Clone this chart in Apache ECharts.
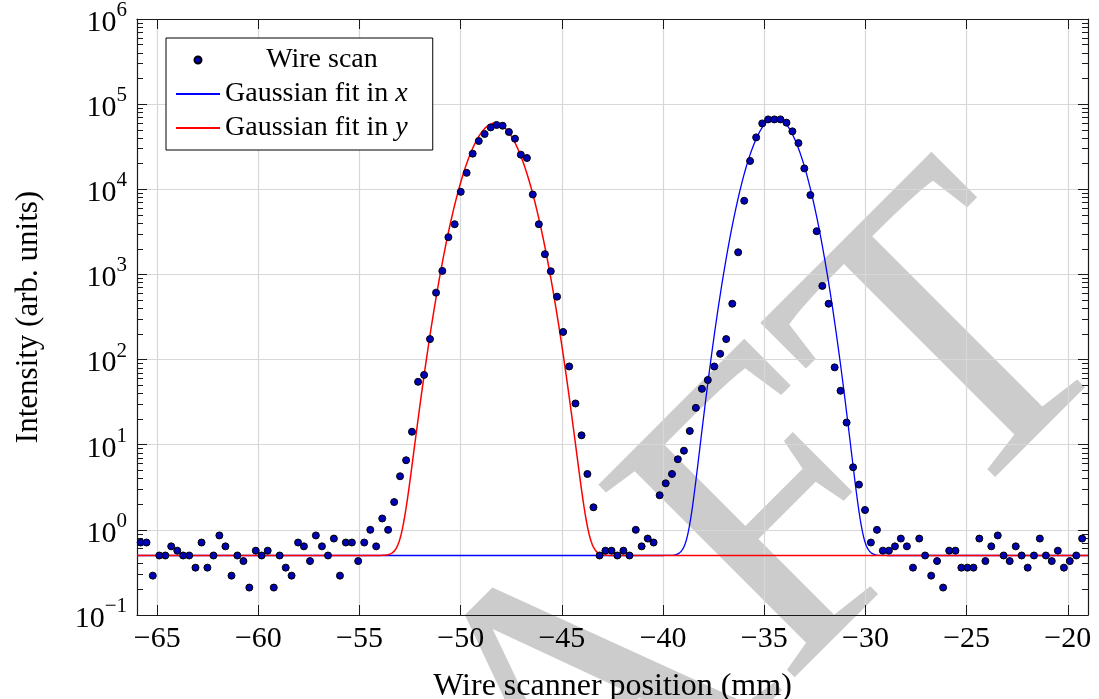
<!DOCTYPE html>
<html>
<head>
<meta charset="utf-8">
<title>Wire scan</title>
<script src="https://cdn.jsdelivr.net/npm/echarts@6.0.0/dist/echarts.min.js"></script>
<style>
  html, body { margin: 0; padding: 0; background: #fff; }
  #chart { width: 1099px; height: 699px; }
</style>
</head>
<body>
<div id="chart"></div>
<script>
// wire scan: scanner position (mm) and measured intensity (arb. units)
var scanX = [
  -65.82, -65.53, -65.22, -64.90, -64.60, -64.31, -64.01, -63.72, -63.42, -63.11,
  -62.81, -62.52, -62.22, -61.93, -61.63, -61.33, -61.04, -60.74, -60.45, -60.13,
  -59.84, -59.54, -59.24, -58.95, -58.65, -58.36, -58.04, -57.75, -57.45, -57.16,
  -56.86, -56.56, -56.27, -55.97, -55.68, -55.38, -55.07, -54.77, -54.47, -54.18,
  -53.88, -53.59, -53.29, -53.00, -52.70, -52.41, -52.11, -51.81, -51.52, -51.22,
  -50.91, -50.61, -50.30, -50.00, -49.71, -49.41, -49.11, -48.82, -48.52, -48.23,
  -47.93, -47.62, -47.32, -47.03, -46.73, -46.44, -46.14, -45.84, -45.55, -45.24,
  -44.94, -44.64, -44.33, -44.03, -43.74, -43.44, -43.14, -42.85, -42.55, -42.26,
  -41.96, -41.66, -41.35, -41.06, -40.76, -40.47, -40.17, -39.87, -39.56, -39.27,
  -38.97, -38.68, -38.38, -38.08, -37.79, -37.47, -37.18, -36.88, -36.58, -36.29,
  -35.99, -35.70, -35.40, -35.10, -34.81, -34.50, -34.20, -33.90, -33.61, -33.31,
  -33.02, -32.72, -32.41, -32.13, -31.82, -31.52, -31.23, -30.93, -30.61, -30.32,
  -30.02, -29.73, -29.43, -29.14, -28.84, -28.54, -28.25, -27.95, -27.65, -27.34,
  -27.05, -26.75, -26.46, -26.16, -25.86, -25.55, -25.26, -24.96, -24.66, -24.37,
  -24.07, -23.78, -23.46, -23.17, -22.87, -22.57, -22.28, -21.98, -21.67, -21.38,
  -21.08, -20.79, -20.49, -20.19, -19.90, -19.58, -19.29
]
var scanY = [
  0.71, 0.71, 0.29, 0.5, 0.5, 0.64, 0.57, 0.5, 0.5, 0.36,
  0.71, 0.36, 0.5, 0.86, 0.64, 0.29, 0.5, 0.43, 0.21, 0.57,
  0.5, 0.57, 0.21, 0.5, 0.36, 0.29, 0.71, 0.64, 0.43, 0.86,
  0.64, 0.5, 0.79, 0.29, 0.71, 0.71, 0.43, 0.71, 1.0, 0.64,
  1.36, 1.0, 2.12, 4.26, 6.57, 14.2, 54.8, 66, 174, 611,
  1100, 2740, 3890, 9330, 15600, 26200, 36900, 44600, 53300, 56900,
  55800, 47100, 39300, 25500, 23300, 8690, 3890, 1730, 1090, 548,
  211, 83, 30.5, 12.9, 4.53, 1.84, 0.5, 0.57, 0.57, 0.5,
  0.57, 0.5, 1.0, 0.64, 0.79, 0.71, 2.55, 3.52, 4.53, 6.75,
  8.5, 14.5, 27.1, 45.3, 57.5, 83, 117, 174, 453, 1820,
  7330, 21500, 40700, 59400, 66200, 66200, 66200, 60600, 47900, 34900,
  17600, 8550, 3220, 733, 453, 81, 43, 18.2, 5.43, 3.4,
  1.71, 0.71, 1.0, 0.57, 0.57, 0.64, 0.79, 0.64, 0.36, 0.79,
  0.5, 0.29, 0.43, 0.21, 0.57, 0.57, 0.36, 0.36, 0.36, 0.79,
  0.43, 0.64, 0.86, 0.5, 0.43, 0.64, 0.5, 0.36, 0.5, 0.79,
  0.5, 0.43, 0.57, 0.36, 0.43, 0.5, 0.79
]

// gaussian fits: [amplitude, centre, sigma, offset]
var fitXParams = [7.0e4, -34.45, 0.88, 0.5]
var fitYParams = [6.0e4, -48.3, 0.95, 0.5]

var xRange = [-66, -19]
var xTicks = [-65, -60, -55, -50, -45, -40, -35, -30, -25, -20]
var yTicks = [0.1, 1, 10, 100, 1e3, 1e4, 1e5, 1e6]

var FONT = 'Liberation Serif'
var AXIS_COLOR = '#1a1a1a'
var GRID_COLOR = '#d7d7d7'

var yMinorTicks = []
for (var d = 0; d < yTicks.length - 1; d++) {
  for (var k = 2; k <= 9; k++) {
    yMinorTicks.push(yTicks[d] * k)
  }
}

function fitLine(p) {
  var pts = []
  for (var x = xRange[0]; x <= xRange[1] + 1e-9; x += 0.05) {
    var dx = x - p[1]
    pts.push([x, p[0] * Math.exp(-dx * dx / (2 * p[2] * p[2])) + p[3]])
  }
  return pts
}

function supLabel(v) {
  var e = Math.round(Math.log10(v))
  return '{b|10}{s|' + String(e).replace('-', '\u2212') + '}'
}

var scanData = scanX.map(function (x, i) { return [x, scanY[i]] })

var chart = echarts.init(document.getElementById('chart'), null, { renderer: 'canvas' })

function axisLine() {
  return { show: true, onZero: false, lineStyle: { color: AXIS_COLOR, width: 1.2 } }
}
function majorTick(vals) {
  return { show: true, inside: true, length: 10, customValues: vals, lineStyle: { color: AXIS_COLOR, width: 1 } }
}
function minorTick(vals) {
  return { show: true, inside: true, length: 6, customValues: vals, lineStyle: { color: AXIS_COLOR, width: 1 } }
}

chart.setOption({
  animation: false,
  backgroundColor: '#fff',
  grid: {
    left: 137,
    right: 11,
    top: 19,
    bottom: 84,
    outerBoundsMode: 'none'
  },
  // draft watermark behind the plot
  graphic: [
    {
      type: 'text',
      z: -10,
      silent: true,
      x: 566,
      y: 750,
      rotation: Math.PI / 4,
      style: {
        text: 'DRAFT',
        fontFamily: FONT,
        fontSize: 420,
        fill: '#cccccc',
        align: 'center',
        verticalAlign: 'middle'
      }
    }
  ],
  legend: {
    orient: 'vertical',
    left: 166,
    top: 38,
    padding: [8, 25, 8, 9],
    itemGap: 6,
    itemWidth: 44,
    itemHeight: 7,
    backgroundColor: '#fff',
    borderColor: '#000',
    borderWidth: 1,
    borderRadius: 0,
    z: 10,
    data: [
      { name: 'Wire scan' },
      { name: 'Gaussian fit in x', itemStyle: { opacity: 0 } },
      { name: 'Gaussian fit in y', itemStyle: { opacity: 0 } }
    ],
    formatter: function (name) {
      if (name === 'Wire scan') return '{w|Wire scan}'
      return '{t|' + name.slice(0, -1) + '}{i|' + name.slice(-1) + '}'
    },
    textStyle: {
      fontFamily: FONT,
      fontSize: 28,
      color: '#000',
      rich: {
        w: { width: 194, align: 'center', fontFamily: FONT, fontSize: 28, color: '#000' },
        t: { fontFamily: FONT, fontSize: 28, color: '#000' },
        i: { fontFamily: FONT, fontStyle: 'italic', fontSize: 28, color: '#000' }
      }
    }
  },
  xAxis: [
    {
      type: 'value',
      position: 'bottom',
      min: xRange[0],
      max: xRange[1],
      axisLine: axisLine(),
      axisTick: majorTick(xTicks),
      axisLabel: {
        customValues: xTicks,
        margin: 9,
        fontFamily: FONT,
        fontSize: 30,
        color: '#000',
        formatter: function (v) { return String(v).replace('-', '\u2212') }
      },
      splitLine: { show: true, lineStyle: { color: GRID_COLOR, width: 1.2 } },
      name: 'Wire scanner position (mm)',
      nameLocation: 'middle',
      nameGap: 56,
      nameMoveOverlap: false,
      nameTextStyle: { fontFamily: FONT, fontSize: 32, color: '#000' }
    },
    {
      type: 'value',
      position: 'top',
      min: xRange[0],
      max: xRange[1],
      axisLine: axisLine(),
      axisTick: majorTick(xTicks),
      axisLabel: { show: false },
      splitLine: { show: false }
    }
  ],
  yAxis: [
    {
      type: 'log',
      logBase: 10,
      position: 'left',
      min: 0.1,
      max: 1e6,
      axisLine: axisLine(),
      axisTick: majorTick(yTicks),
      axisLabel: {
        customValues: yTicks,
        margin: 10,
        formatter: supLabel,
        rich: {
          b: { fontFamily: FONT, fontSize: 30, lineHeight: 38, verticalAlign: 'bottom', color: '#000' },
          s: { fontFamily: FONT, fontSize: 21, lineHeight: 21, verticalAlign: 'top', color: '#000' }
        }
      },
      splitLine: { show: true, lineStyle: { color: GRID_COLOR, width: 1.2 } },
      minorTick: { show: false },
      name: 'Intensity (arb. units)',
      nameLocation: 'middle',
      nameGap: 93,
      nameMoveOverlap: false,
      nameTextStyle: { fontFamily: FONT, fontSize: 31, color: '#000' }
    },
    {
      type: 'log',
      logBase: 10,
      position: 'left',
      min: 0.1,
      max: 1e6,
      axisLine: { show: false },
      axisTick: minorTick(yMinorTicks),
      axisLabel: { show: false },
      splitLine: { show: false }
    },
    {
      type: 'log',
      logBase: 10,
      position: 'right',
      min: 0.1,
      max: 1e6,
      axisLine: axisLine(),
      axisTick: majorTick(yTicks),
      axisLabel: { show: false },
      splitLine: { show: false }
    },
    {
      type: 'log',
      logBase: 10,
      position: 'right',
      min: 0.1,
      max: 1e6,
      axisLine: { show: false },
      axisTick: minorTick(yMinorTicks),
      axisLabel: { show: false },
      splitLine: { show: false }
    }
  ],
  series: [
    {
      name: 'Gaussian fit in x',
      type: 'line',
      data: fitLine(fitXParams),
      showSymbol: false,
      symbol: 'none',
      z: 3,
      lineStyle: { color: '#0000ff', width: 1.3 },
      itemStyle: { color: '#0000ff' }
    },
    {
      name: 'Gaussian fit in y',
      type: 'line',
      data: fitLine(fitYParams),
      showSymbol: false,
      symbol: 'none',
      z: 4,
      lineStyle: { color: '#ff0000', width: 1.5 },
      itemStyle: { color: '#ff0000' }
    },
    {
      name: 'Wire scan',
      type: 'scatter',
      data: scanData,
      symbol: 'circle',
      symbolSize: 7,
      z: 5,
      itemStyle: { color: '#0000b4', borderColor: '#000', borderWidth: 1, opacity: 1 }
    }
  ]
})
</script>
</body>
</html>
